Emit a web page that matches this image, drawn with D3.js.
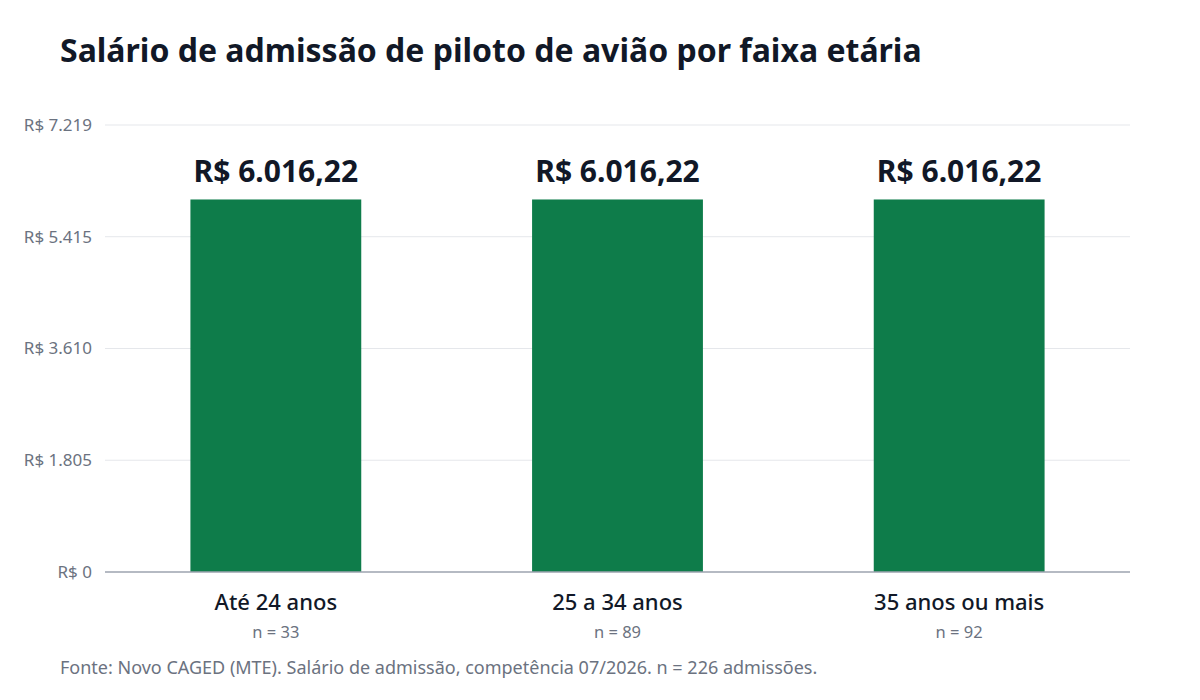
<html>
<head>
<script src="https://cdn.jsdelivr.net/npm/d3@7"></script>
<style>
  body { margin:0; background:#fff; font-family:"Noto Sans", "Open Sans", sans-serif; }
</style>
</head>
<body>
<svg id="svg" width="1200" height="700"></svg>
<script>
// data
const categories = ["Até 24 anos", "25 a 34 anos", "35 anos ou mais"];
const salaries = [6016.22, 6016.22, 6016.22];
const counts = [33, 89, 92];
const tickValues = [0, 1805, 3610, 5415, 7219];
const yMax = 7219;

const margins = { left: 105, right: 70, top: 125, bottom: 128 };
const dims = { width: 1200, height: 700 };

const svg = d3.select("#svg");

const x = d3.scaleBand()
  .domain(categories)
  .range([margins.left, dims.width - margins.right])
  .paddingInner(0.5)
  .paddingOuter(0.25);
const y = d3.scaleLinear()
  .domain([0, yMax])
  .range([dims.height - margins.bottom, margins.top]);

const thousands = d3.formatLocale({ decimal: ",", thousands: ".", grouping: [3], currency: ["R$ ", ""] });
const fmtInt = thousands.format(",d");
const fmtMoney = thousands.format(",.2f");

// title
svg.append("text")
  .attr("x", 60).attr("y", 62)
  .attr("font-size", 32).attr("font-weight", 700).attr("fill", "#111827")
  .text("Salário de admissão de piloto de avião por faixa etária");

// grid
svg.append("g").selectAll("line")
  .data(tickValues.filter(d => d > 0))
  .join("line")
  .attr("x1", margins.left).attr("x2", dims.width - margins.right)
  .attr("y1", d => y(d)).attr("y2", d => y(d))
  .attr("stroke", "#e5e7eb");

// y axis labels
const yAxis = d3.axisLeft(y).tickValues(tickValues).tickSize(0).tickPadding(13)
  .tickFormat(d => "R$ " + fmtInt(d));
svg.append("g")
  .attr("transform", `translate(${margins.left},0)`)
  .call(yAxis)
  .call(g => g.select(".domain").remove())
  .call(g => g.selectAll("text").attr("font-size", 17).attr("fill", "#6b7280").attr("font-family", "Noto Sans"));

// bars
svg.append("g").selectAll("rect")
  .data(categories)
  .join("rect")
  .attr("x", d => x(d))
  .attr("width", x.bandwidth())
  .attr("y", (d, i) => y(salaries[i]))
  .attr("height", (d, i) => y(0) - y(salaries[i]))
  .attr("fill", "#0e7c4a");

// baseline
svg.append("line")
  .attr("x1", margins.left).attr("x2", dims.width - margins.right)
  .attr("y1", y(0)).attr("y2", y(0))
  .attr("stroke", "#9ca3af").attr("stroke-width", 1.5);

// value labels
svg.append("g").selectAll("text")
  .data(categories)
  .join("text")
  .attr("x", d => x(d) + x.bandwidth() / 2)
  .attr("y", (d, i) => y(salaries[i]) - 17)
  .attr("text-anchor", "middle")
  .attr("font-size", 30).attr("font-weight", 700).attr("fill", "#111827")
  .text((d, i) => "R$ " + fmtMoney(salaries[i]));

// category labels
svg.append("g").selectAll("text")
  .data(categories)
  .join("text")
  .attr("x", d => x(d) + x.bandwidth() / 2)
  .attr("y", y(0) + 38)
  .attr("text-anchor", "middle")
  .attr("font-size", 22).attr("font-weight", 500).attr("fill", "#111827")
  .text(d => d);

svg.append("g").selectAll("text")
  .data(categories)
  .join("text")
  .attr("x", d => x(d) + x.bandwidth() / 2)
  .attr("y", y(0) + 66)
  .attr("text-anchor", "middle")
  .attr("font-size", 16.5).attr("fill", "#6b7280")
  .text((d, i) => "n = " + counts[i]);

// footer
svg.append("text")
  .attr("x", 60).attr("y", 674)
  .attr("font-size", 18).attr("fill", "#6b7280")
  .text("Fonte: Novo CAGED (MTE). Salário de admissão, competência 07/2026. n = 226 admissões.");
</script>
</body>
</html>
